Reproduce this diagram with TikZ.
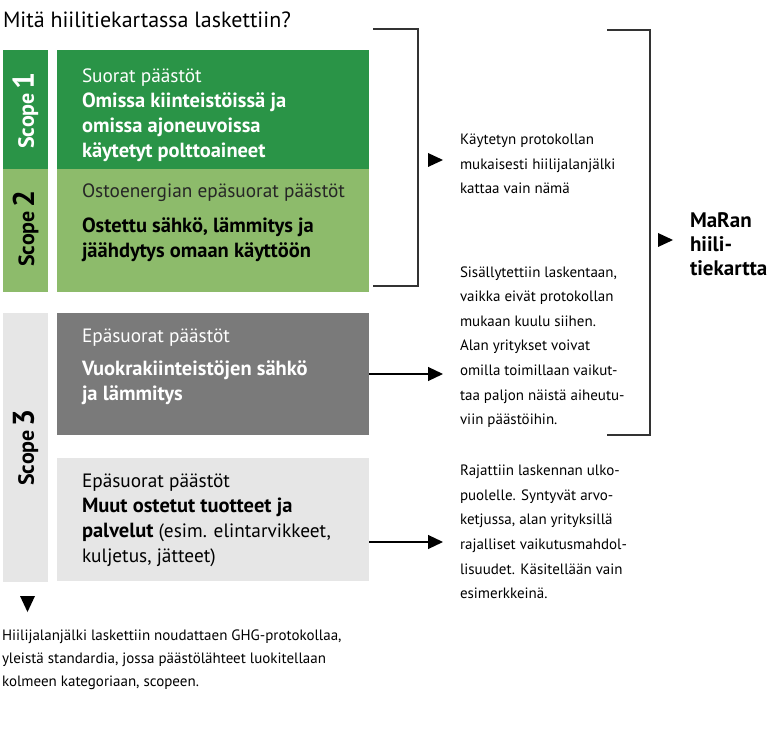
\documentclass[tikz,border=0pt]{standalone}
\usepackage{fontspec}
\setmainfont{PT Sans}
\usetikzlibrary{arrows.meta}
\definecolor{sgreen}{HTML}{2A9447}
\definecolor{lgreen}{HTML}{8DBB6B}
\definecolor{dgrey}{HTML}{7A7A7A}
\definecolor{lgrey}{HTML}{E6E6E6}
\definecolor{lineg}{HTML}{333333}
\begin{document}
\begin{tikzpicture}[x=1pt,y=-1pt,
  box/.style={draw=none,inner sep=0,outer sep=0,minimum width=312pt,anchor=north west},
  strip/.style={draw=none,inner sep=0,outer sep=0,minimum width=45pt,anchor=north west},
  txt/.style={inner sep=0,outer sep=0,anchor=west,align=left},
  body/.style={txt,font=\fontsize{15}{24.6}\selectfont},
  boxtxt/.style={txt,font=\fontsize{19.3}{25}\selectfont},
  boxbold/.style={txt,font=\fontsize{20.5}{25}\selectfont\bfseries},
  scopelbl/.style={inner sep=0,rotate=90,font=\fontsize{22}{22}\selectfont\bfseries},
  brk/.style={draw=lineg,line width=1.4pt},
  arr/.style={draw=black,line width=1.2pt,-{Triangle[length=15pt,width=14pt]}}]
\useasboundingbox (0,0) rectangle (780,735);
% title
\node[txt,font=\fontsize{22}{24}\selectfont] (title) at (3,20) {Mitä hiilitiekartassa laskettiin?};
% strips
\node[strip,fill=sgreen,minimum height=119pt] (s1) at (3,50) {};
\node[strip,fill=lgreen,minimum height=123pt] (s2) at (3,169) {};
\node[strip,fill=lgrey,minimum height=269pt] (s3) at (3,313) {};
% boxes
\node[box,fill=sgreen,minimum height=119pt] (b1) at (57,50) {};
\node[box,fill=lgreen,minimum height=123pt] (b2) at (57,169) {};
\node[box,fill=dgrey,minimum height=122pt] (b3a) at (57,313) {};
\node[box,fill=lgrey,minimum height=123pt] (b3b) at (57,458) {};
% scope labels
\node[scopelbl,text=white] (l1) at ([yshift=-1pt]s1.center) {Scope\,{\fontsize{30}{30}\selectfont 1}};
\node[scopelbl,text=black] (l2) at ([yshift=2pt]s2.center) {Scope\,{\fontsize{30}{30}\selectfont 2}};
\node[scopelbl,text=black] (l3) at (s3.center) {Scope\,{\fontsize{30}{30}\selectfont 3}};
% box texts
\node[boxtxt,text=white] (t1) at (82,115) {Suorat päästöt\\{\bfseries\fontsize{20.5}{25}\selectfont Omissa kiinteistöissä ja}\\{\bfseries\fontsize{20.5}{25}\selectfont omissa ajoneuvoissa}\\{\bfseries\fontsize{20.5}{25}\selectfont käytetyt polttoaineet}};
\node[boxtxt,text=black!85] (t2h) at (82,193) {Ostoenergian epäsuorat päästöt};
\node[boxbold,text=black] (t2) at (82,240) {Ostettu sähkö, lämmitys ja\\jäähdytys omaan käyttöön};
\node[boxtxt,text=white] (t3ah) at (82,338) {Epäsuorat päästöt};
\node[boxbold,text=white] (t3a) at (82,383) {Vuokrakiinteistöjen sähkö\\ja lämmitys};
\node[boxtxt,text=black] (t3b) at (82,520) {Epäsuorat päästöt\\{\bfseries\fontsize{20.5}{25}\selectfont Muut ostetut tuotteet ja}\\{\bfseries\fontsize{20.5}{25}\selectfont palvelut} (esim. elintarvikkeet,\\kuljetus, jätteet)};
% right texts
\node[body] (r1) at (460,164) {Käytetyn protokollan\\mukaisesti hiilijalanjälki\\kattaa vain nämä};
\node[body] (r2) at (460,347) {Sisällytettiin laskentaan,\\vaikka eivät protokollan\\mukaan kuulu siihen.\\Alan yritykset voivat\\omilla toimillaan vaikut-\\taa paljon näistä aiheutu-\\viin päästöihin.};
\node[body] (r3) at (460,532) {Rajattiin laskennan ulko-\\puolelle. Syntyvät arvo-\\ketjussa, alan yrityksillä\\rajalliset vaikutusmahdol-\\lisuudet. Käsitellään vain\\esimerkkeinä.};
\node[txt,font=\fontsize{21}{24}\selectfont\bfseries] (maran) at (690,244) {MaRan\\hiili-\\tiekartta};
% bottom text
\node[body,font=\fontsize{15}{23}\selectfont] (foot) at (2,660) {Hiilijalanjälki laskettiin noudattaen GHG-protokollaa,\\yleistä standardia, jossa päästölähteet luokitellaan\\kolmeen kategoriaan, scopeen.};
% brackets
\coordinate (k1a) at (373,29);
\coordinate (k1b) at (418,29);
\coordinate (k1c) at (418,286);
\coordinate (k1d) at (373,286);
\draw[brk] (k1a) -- (k1b) -- (k1c) -- (k1d);
\coordinate (k2a) at (607,30);
\coordinate (k2b) at (650,30);
\coordinate (k2c) at (650,435);
\coordinate (k2d) at (607,435);
\draw[brk] (k2a) -- (k2b) -- (k2c) -- (k2d);
% standalone triangles
\fill (428,153) -- (443,160) -- (428,167) -- cycle;
\fill (658,233) -- (673,240) -- (658,247) -- cycle;
\fill (20,596) -- (35,596) -- (27.5,612) -- cycle;
% arrows from boxes
\draw[arr] (b3a.east) -- (443,374);
\draw[arr] (b3b.east |- 0,542) -- (443,542);
\end{tikzpicture}
\end{document}
